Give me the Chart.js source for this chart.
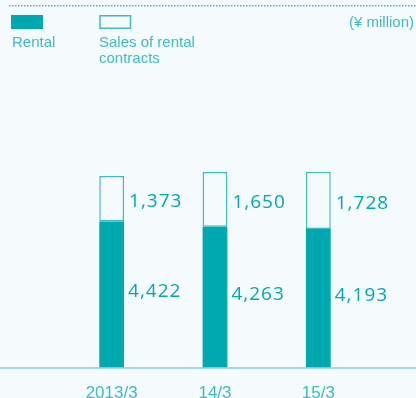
<!DOCTYPE html>
<html><head><meta charset="utf-8">
<script src="https://cdn.jsdelivr.net/npm/chart.js@4"></script>
<style>
html,body{margin:0;padding:0;background:#f5fafc;overflow:hidden;}
#wrap{position:relative;width:416px;height:412px;}
</style></head>
<body><div id="wrap"><canvas id="c"></canvas></div>
<script>
const categories = ["2013/3", "14/3", "15/3"];
const rental = [4422, 4263, 4193];
const salesOfContracts = [1373, 1650, 1728];
const seriesNames = ["Rental", ["Sales of rental", "contracts"]];
const unitLabel = "(¥ million)";

const TEAL = "#00a8b0";
const TEAL_LIGHT = "#3fbac2";
const BG = "#f5fafc";

const fmt = v => v.toLocaleString("en-US");

const decor = {
  id: "decor",
  beforeDraw(chart) {
    const ctx = chart.ctx;
    ctx.save();
    ctx.fillStyle = TEAL_LIGHT;
    for (let x = 9; x < 416; x += 3) ctx.fillRect(x, 5, 1.5, 1.5);
    ctx.fillStyle = TEAL;
    ctx.fillRect(11, 15, 32, 14);
    ctx.strokeStyle = TEAL_LIGHT;
    ctx.lineWidth = 1.5;
    ctx.strokeRect(100, 15.75, 30.5, 12.5);
    ctx.fillStyle = TEAL_LIGHT;
    ctx.font = "15px 'Liberation Sans', Arial, sans-serif";
    ctx.textBaseline = "middle";
    ctx.textAlign = "left";
    ctx.fillText(seriesNames[0], 12, 43);
    ctx.fillText(seriesNames[1][0], 99, 43);
    ctx.fillText(seriesNames[1][1], 99, 59);
    ctx.textAlign = "right";
    ctx.fillText(unitLabel, 414, 23);
    const y = chart.scales.y.getPixelForValue(0);
    ctx.strokeStyle = "#7fd0d4";
    ctx.lineWidth = 1.5;
    ctx.beginPath(); ctx.moveTo(0, y + 0.5); ctx.lineTo(416, y + 0.5); ctx.stroke();
    ctx.restore();
  },
  afterDatasetsDraw(chart) {
    const ctx = chart.ctx;
    ctx.save();
    ctx.fillStyle = TEAL;
    ctx.font = "19px 'Open Sans', 'Noto Sans', sans-serif";
    ctx.textBaseline = "middle";
    ctx.textAlign = "left";
    if ('letterSpacing' in ctx) ctx.letterSpacing = "1px";
    const m0 = chart.getDatasetMeta(0), m1 = chart.getDatasetMeta(1);
    m0.data.forEach((bar, i) => {
      const x = bar.x + bar.width / 2 + 4;
      ctx.fillText(fmt(rental[i]), x, (bar.y + bar.base) / 2 - 3);
      const b2 = m1.data[i];
      ctx.fillText(fmt(salesOfContracts[i]), x + 1, (b2.y + b2.base) / 2 + 3);
    });
    ctx.restore();
  }
};

new Chart(document.getElementById("c"), {
  type: "bar",
  data: {
    labels: categories,
    datasets: [
      { label: "Rental", data: rental, backgroundColor: TEAL, borderWidth: 0,
        barPercentage: 0.24, categoryPercentage: 1 },
      { label: "Sales of rental contracts", data: salesOfContracts, backgroundColor: BG,
        borderColor: TEAL_LIGHT, borderWidth: 1.5, borderSkipped: false,
        barPercentage: 0.24, categoryPercentage: 1 }
    ]
  },
  options: {
    responsive: true, maintainAspectRatio: false, animation: false,
    devicePixelRatio: 1,
    layout: { padding: { left: 60, right: 46, top: 70, bottom: 0 } },
    plugins: { legend: { display: false }, tooltip: { enabled: false } },
    scales: {
      x: { stacked: true, grid: { display: false }, border: { display: false },
           ticks: { color: TEAL_LIGHT, font: { size: 17, family: "'Liberation Sans', Arial, sans-serif" }, padding: 8 } },
      y: { stacked: true, display: false, min: 0, max: 9000 }
    }
  },
  plugins: [decor]
});
</script></body></html>
